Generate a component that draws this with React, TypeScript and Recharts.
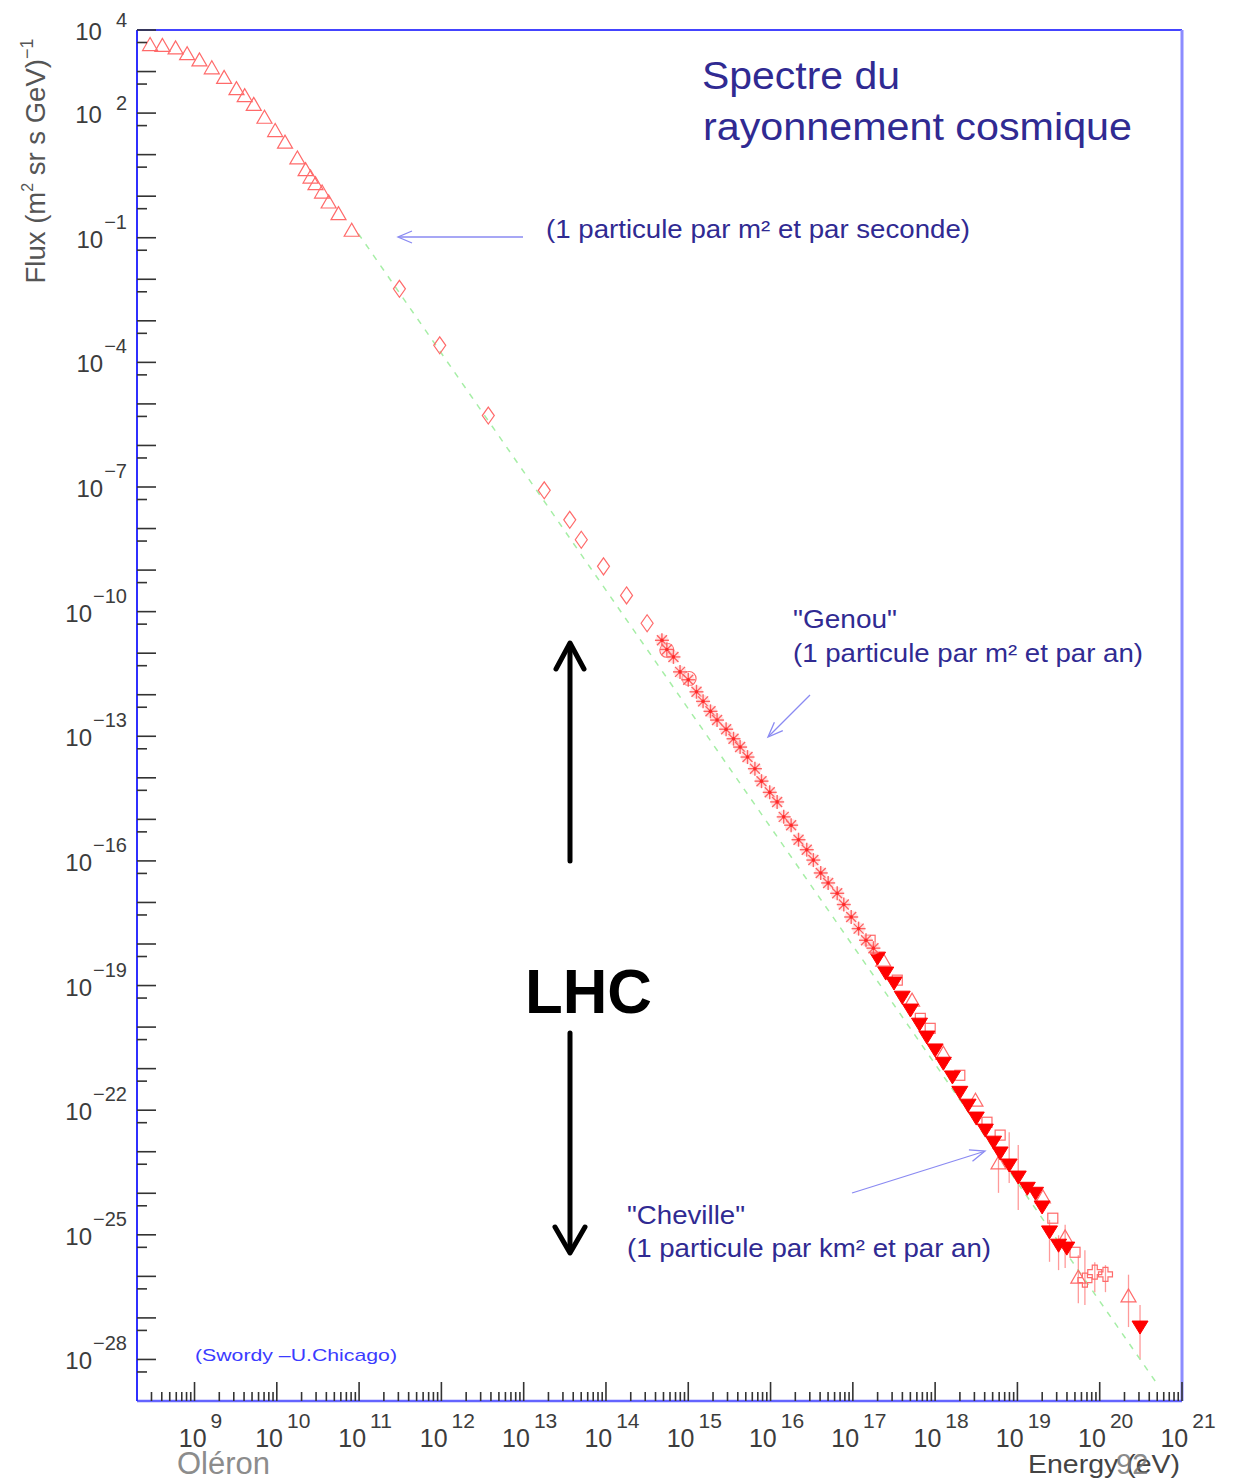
import React from 'react';
import { ScatterChart, Scatter, XAxis, YAxis, ErrorBar, ReferenceLine } from 'recharts';

const FONT = "'Liberation Sans', Arial, Helvetica, sans-serif";

// ---- data: log10(E / eV) and log10(flux) ----
const lowEnergyLogE = [8.46, 8.61, 8.77, 8.91, 9.06, 9.21, 9.36, 9.51, 9.61, 9.72, 9.85, 9.98, 10.1, 10.25, 10.35, 10.41, 10.47, 10.55, 10.63, 10.75, 10.91];
const lowEnergyLogF = [3.65, 3.63, 3.57, 3.43, 3.28, 3.09, 2.86, 2.59, 2.42, 2.21, 1.9, 1.58, 1.3, 0.92, 0.64, 0.46, 0.3, 0.1, -0.14, -0.42, -0.82];

const directLogE = [11.49, 11.98, 12.57, 13.25, 13.56, 13.7, 13.97, 14.25, 14.5];
const directLogF = [-2.23, -3.59, -5.28, -7.08, -7.79, -8.27, -8.91, -9.61, -10.28];

const kneeLogE = [14.68, 14.74, 14.82, 14.9, 15.0, 15.1, 15.18, 15.27, 15.35, 15.46, 15.55, 15.63, 15.72, 15.81, 15.89, 15.99, 16.08, 16.16, 16.25, 16.34, 16.44, 16.52, 16.61, 16.7, 16.81, 16.89, 16.98, 17.07, 17.16, 17.25];
const kneeLogF = [-10.69, -10.91, -11.09, -11.45, -11.64, -11.93, -12.16, -12.4, -12.61, -12.83, -13.06, -13.26, -13.5, -13.78, -14.08, -14.35, -14.58, -14.94, -15.14, -15.49, -15.73, -15.98, -16.29, -16.53, -16.78, -17.05, -17.35, -17.63, -17.91, -18.1];

const ringLogE = [14.74, 15.01];
const ringLogF = [-10.93, -11.61];

const filledLogE = [17.3, 17.4, 17.5, 17.6, 17.7, 17.81, 17.9, 18.0, 18.1, 18.21, 18.3, 18.4, 18.5, 18.61, 18.71, 18.79, 18.9, 19.01, 19.12, 19.22, 19.3, 19.39, 19.5, 19.6, 20.49];
const filledLogF = [-18.34, -18.7, -18.94, -19.28, -19.59, -19.93, -20.24, -20.55, -20.87, -21.2, -21.57, -21.88, -22.19, -22.48, -22.77, -23.03, -23.32, -23.61, -23.88, -24.0, -24.33, -24.93, -25.25, -25.32, -27.22];
const filledErrUp = [0, 0, 0, 0, 0, 0, 0, 0, 0, 0, 0, 0, 0, 0, 0, 0, 0.79, 0.77, 0, 0, 0, 0.29, 0.24, 0, 0.53];
const filledErrDown = [0, 0, 0, 0, 0, 0, 0, 0, 0, 0, 0, 0, 0, 0, 0, 0, 0.43, 0.79, 0, 0, 0, 0.72, 0.6, 0, 0.79];

const openTriLogE = [17.37, 17.72, 18.1, 18.49, 18.77, 19.31, 19.58, 19.74, 20.35];
const openTriLogF = [-18.39, -19.35, -20.63, -21.76, -23.27, -24.09, -25.05, -26.02, -26.47];
const openTriErrUp = [0, 0, 0, 0, 0.31, 0, 0.29, 0.53, 0.51];
const openTriErrDown = [0, 0, 0, 0, 0.72, 0, 0.75, 0.63, 0.75];

const openSquareLogE = [17.21, 17.54, 17.82, 17.94, 18.3, 18.63, 18.79, 19.43, 19.7];
const openSquareLogF = [-17.91, -18.87, -19.79, -20.03, -21.16, -22.29, -22.6, -24.6, -25.42];

const openCrossLogE = [19.82, 19.94, 20.07];
const openCrossLogF = [-26.09, -25.9, -25.95];
const openCrossErrUp = [0.72, 0.24, 0.22];
const openCrossErrDown = [0.6, 0.48, 0.43];

const fitLogE = [10.99, 20.72];
const fitLogF = [-0.9, -28.65];

// ---- axes ----
const X_MIN = 2e8;
const X_MAX = 1e21;
const Y_MIN = 1e-29;
const Y_MAX = 1e4;
const X_DECADES = [8, 9, 10, 11, 12, 13, 14, 15, 16, 17, 18, 19, 20];
const Y_DECADES = [4, 3, 2, 1, 0, -1, -2, -3, -4, -5, -6, -7, -8, -9, -10, -11, -12, -13, -14, -15, -16, -17, -18, -19, -20, -21, -22, -23, -24, -25, -26, -27, -28];
const Y_LABEL_EXPONENTS = [4, 2, -1, -4, -7, -10, -13, -16, -19, -22, -25, -28];
const X_LABEL_EXPONENTS = [9, 10, 11, 12, 13, 14, 15, 16, 17, 18, 19, 20, 21];

type Pt = { x: number; y: number; err: [number, number] };

function buildPoints(logE: number[], logF: number[], up?: number[], down?: number[]): Pt[] {
  return logE.map((e, i) => {
    const y = Math.pow(10, logF[i]);
    const u = up ? up[i] : 0;
    const d = down ? down[i] : 0;
    return {
      x: Math.pow(10, e),
      y,
      err: [y - Math.pow(10, logF[i] - d), Math.pow(10, logF[i] + u) - y],
    };
  });
}

const lowEnergyPts = buildPoints(lowEnergyLogE, lowEnergyLogF);
const directPts = buildPoints(directLogE, directLogF);
const kneePts = buildPoints(kneeLogE, kneeLogF);
const ringPts = buildPoints(ringLogE, ringLogF);
const filledPts = buildPoints(filledLogE, filledLogF, filledErrUp, filledErrDown);
const openTriPts = buildPoints(openTriLogE, openTriLogF, openTriErrUp, openTriErrDown);
const openSquarePts = buildPoints(openSquareLogE, openSquareLogF);
const openCrossPts = buildPoints(openCrossLogE, openCrossLogF, openCrossErrUp, openCrossErrDown);
const fitPts = buildPoints(fitLogE, fitLogF);

const xTicks: number[] = [];
X_DECADES.forEach((n) => {
  for (let k = 1; k <= 9; k++) {
    const v = k * Math.pow(10, n);
    if (v > X_MIN * 1.01 && v <= X_MAX) xTicks.push(v);
  }
});
xTicks.push(X_MAX);

const yTicks: number[] = [];
Y_DECADES.forEach((n) => {
  yTicks.push(Math.pow(10, n));
  yTicks.push(5 * Math.pow(10, n - 1));
});

function decade(v: number): { exp: number; major: boolean } {
  const lg = Math.log10(v);
  const exp = Math.round(lg);
  return { exp, major: Math.abs(lg - exp) < 1e-6 };
}

const supText = (exp: number) => (exp < 0 ? '\u2212' + String(-exp) : String(exp));

const XTick = (props: any) => {
  const { x, y, payload } = props;
  const { exp, major } = decade(payload.value);
  const len = major ? 19 : 9;
  return (
    <g>
      <line x1={x} y1={y} x2={x} y2={y - len} stroke="#333" strokeWidth={1.6} />
      {major && X_LABEL_EXPONENTS.includes(exp) && (
        <text x={x + 6} y={y + 46} textAnchor="middle" fontFamily={FONT} fontSize={25} fill="#3c3c3c">
          10
          <tspan dx={4} dy={-19} fontSize={21}>
            {supText(exp)}
          </tspan>
        </text>
      )}
    </g>
  );
};

const YTick = (props: any) => {
  const { x, y, payload } = props;
  const { exp, major } = decade(payload.value);
  const len = major ? 19 : 10;
  return (
    <g>
      <line x1={x} y1={y} x2={x + len} y2={y} stroke="#333" strokeWidth={1.6} />
      {major && Y_LABEL_EXPONENTS.includes(exp) && (
        <text x={x - 10} y={y + 10} textAnchor="end" fontFamily={FONT} fontSize={24} fill="#3c3c3c">
          10
          <tspan dx={exp > 0 ? 14 : 1} dy={exp > 0 ? -13 : -19} fontSize={20}>
            {supText(exp)}
          </tspan>
        </text>
      )}
    </g>
  );
};

// ---- marker shapes ----
const OPEN = '#ff6a6a';

const OpenTriUp = (p: any) => (
  <polygon
    points={`${p.cx},${p.cy - 7} ${p.cx - 7.5},${p.cy + 6} ${p.cx + 7.5},${p.cy + 6}`}
    fill="none"
    stroke={OPEN}
    strokeWidth={1.2}
  />
);

const OpenDiamond = (p: any) => (
  <polygon
    points={`${p.cx},${p.cy - 8.5} ${p.cx + 6},${p.cy} ${p.cx},${p.cy + 8.5} ${p.cx - 6},${p.cy}`}
    fill="none"
    stroke={OPEN}
    strokeWidth={1.2}
  />
);

const StarMark = (p: any) => (
  <g>
    <circle cx={p.cx} cy={p.cy} r={6.5} fill="#ffd0d0" opacity={0.55} />
    <g stroke="#ff5555" strokeWidth={1.4} opacity={0.9}>
      <line x1={p.cx - 7} y1={p.cy} x2={p.cx + 7} y2={p.cy} />
      <line x1={p.cx} y1={p.cy - 7} x2={p.cx} y2={p.cy + 7} />
      <line x1={p.cx - 5} y1={p.cy - 5} x2={p.cx + 5} y2={p.cy + 5} />
      <line x1={p.cx - 5} y1={p.cy + 5} x2={p.cx + 5} y2={p.cy - 5} />
    </g>
    <circle cx={p.cx} cy={p.cy} r={1.8} fill="#ff2a2a" />
  </g>
);

const RingMark = (p: any) => <circle cx={p.cx} cy={p.cy} r={7} fill="none" stroke={OPEN} strokeWidth={1.2} />;

const FilledTriDown = (p: any) => (
  <polygon
    points={`${p.cx - 8},${p.cy - 6} ${p.cx + 8},${p.cy - 6} ${p.cx},${p.cy + 7}`}
    fill="#ff0000"
    stroke="#ff0000"
    strokeWidth={1}
  />
);

const OpenSquare = (p: any) => (
  <rect x={p.cx - 5} y={p.cy - 5} width={10} height={10} fill="none" stroke={OPEN} strokeWidth={1.2} />
);

const OpenCross = (p: any) => {
  const a = 2.5;
  const b = 7;
  const { cx, cy } = p;
  const d = `M${cx - a},${cy - b} L${cx + a},${cy - b} L${cx + a},${cy - a} L${cx + b},${cy - a} L${cx + b},${cy + a} L${cx + a},${cy + a} L${cx + a},${cy + b} L${cx - a},${cy + b} L${cx - a},${cy + a} L${cx - b},${cy + a} L${cx - b},${cy - a} L${cx - a},${cy - a} Z`;
  return <path d={d} fill="none" stroke={OPEN} strokeWidth={1.2} />;
};

const Nothing = () => <g />;

const INDIGO = '#302a92';
const ARROW_BLUE = '#8a8af2';

export default function App() {
  return (
    <div style={{ position: 'absolute', left: 0, top: 0, width: 1234, height: 1480, background: '#fff' }}>
      <ScatterChart width={1234} height={1480} margin={{ top: 30, right: 52, bottom: 0, left: 0 }}>
        <XAxis
          dataKey="x"
          type="number"
          scale="log"
          domain={[X_MIN, X_MAX]}
          allowDataOverflow
          ticks={xTicks}
          interval={0}
          tick={(p: any) => <XTick {...p} />}
          tickLine={false}
          tickSize={0}
          tickMargin={0}
          height={79}
          axisLine={{ stroke: '#6464ff', strokeWidth: 2.5 }}
        />
        <YAxis
          dataKey="y"
          type="number"
          scale="log"
          domain={[Y_MIN, Y_MAX]}
          allowDataOverflow
          ticks={yTicks}
          interval={0}
          tick={(p: any) => <YTick {...p} />}
          tickLine={false}
          tickSize={0}
          tickMargin={0}
          width={137}
          axisLine={{ stroke: '#2f2fff', strokeWidth: 2 }}
        />
        <ReferenceLine y={Y_MAX} stroke="#4444ff" strokeWidth={2} ifOverflow="visible" />
        <ReferenceLine x={X_MAX} stroke="#8c8cff" strokeWidth={3} ifOverflow="visible" />

        <Scatter
          data={fitPts}
          line={{ stroke: '#a6eea6', strokeWidth: 1.5, strokeDasharray: '6 7' }}
          shape={Nothing}
          isAnimationActive={false}
        />

        <Scatter data={openTriPts} shape={OpenTriUp} isAnimationActive={false}>
          <ErrorBar dataKey="err" direction="y" width={0} stroke="#ff9a9a" strokeWidth={1.3} />
        </Scatter>
        <Scatter data={openCrossPts} shape={OpenCross} isAnimationActive={false}>
          <ErrorBar dataKey="err" direction="y" width={0} stroke="#ff9a9a" strokeWidth={1.3} />
        </Scatter>
        <Scatter data={openSquarePts} shape={OpenSquare} isAnimationActive={false} />
        <Scatter data={filledPts} shape={FilledTriDown} isAnimationActive={false}>
          <ErrorBar dataKey="err" direction="y" width={0} stroke="#ff9a9a" strokeWidth={1.3} />
        </Scatter>

        <Scatter data={lowEnergyPts} shape={OpenTriUp} isAnimationActive={false} />
        <Scatter data={directPts} shape={OpenDiamond} isAnimationActive={false} />
        <Scatter data={ringPts} shape={RingMark} isAnimationActive={false} />
        <Scatter data={kneePts} shape={StarMark} isAnimationActive={false} />
      </ScatterChart>

      <svg
        width={1234}
        height={1480}
        style={{ position: 'absolute', left: 0, top: 0, pointerEvents: 'none' }}
        fontFamily={FONT}
      >
        {/* y-axis title */}
        <text transform="translate(45,161) rotate(-90)" textAnchor="middle" fontSize={27.5} fill="#555">
          Flux (m
          <tspan dy={-12} fontSize={16}>
            2
          </tspan>
          <tspan dy={12}> sr s GeV)</tspan>
          <tspan dy={-12} fontSize={18}>
            {'\u22121'}
          </tspan>
        </text>

        {/* title */}
        <text x={702} y={89} fontSize={38} fill={INDIGO} textLength={198} lengthAdjust="spacingAndGlyphs">
          Spectre du
        </text>
        <text x={703} y={140} fontSize={38} fill={INDIGO} textLength={429} lengthAdjust="spacingAndGlyphs">
          rayonnement cosmique
        </text>

        {/* annotations */}
        <text x={546} y={238} fontSize={25} fill={INDIGO} textLength={424} lengthAdjust="spacingAndGlyphs">
          (1 particule par m² et par seconde)
        </text>
        <line x1={523} y1={237} x2={399} y2={237} stroke={ARROW_BLUE} strokeWidth={1.3} />
        <polyline points="412,231 398,237 412,243" fill="none" stroke={ARROW_BLUE} strokeWidth={1.3} />

        <text x={793} y={628} fontSize={25} fill={INDIGO} textLength={104} lengthAdjust="spacingAndGlyphs">
          "Genou"
        </text>
        <text x={793} y={662} fontSize={25} fill={INDIGO} textLength={350} lengthAdjust="spacingAndGlyphs">
          (1 particule par m² et par an)
        </text>
        <line x1={810} y1={695} x2={769} y2={736} stroke={ARROW_BLUE} strokeWidth={1.3} />
        <polyline points="774.4,722.2 768,737 782.8,730.6" fill="none" stroke={ARROW_BLUE} strokeWidth={1.3} />

        <text x={627} y={1224} fontSize={25} fill={INDIGO} textLength={118} lengthAdjust="spacingAndGlyphs">
          "Cheville"
        </text>
        <text x={627} y={1257} fontSize={25} fill={INDIGO} textLength={364} lengthAdjust="spacingAndGlyphs">
          (1 particule par km² et par an)
        </text>
        <line x1={852} y1={1193} x2={984} y2={1151.5} stroke={ARROW_BLUE} strokeWidth={1.3} />
        <polyline points="968.9,1149.8 985,1151 972.5,1161.2" fill="none" stroke={ARROW_BLUE} strokeWidth={1.3} />

        <text x={195} y={1361} fontSize={17} fill="#3b3bff" textLength={202} lengthAdjust="spacingAndGlyphs">
          (Swordy –U.Chicago)
        </text>

        {/* LHC */}
        <text x={525} y={1013} fontSize={63} fontWeight="bold" fill="#000" textLength={127} lengthAdjust="spacingAndGlyphs">
          LHC
        </text>
        <g stroke="#000" strokeWidth={5} fill="none" strokeLinecap="round" strokeLinejoin="round">
          <line x1={570} y1={646} x2={570} y2={861} />
          <polyline points="556,669 570,643 584,669" />
          <line x1={570} y1={1033} x2={570} y2={1251} />
          <polyline points="555,1227 570,1253 585,1227" />
        </g>

        {/* footer */}
        <text x={177} y={1474} fontSize={31} fill="#8c8c8c" textLength={93} lengthAdjust="spacingAndGlyphs">
          Oléron
        </text>
        <text x={1028} y={1473} fontSize={25} fill="#444" textLength={152} lengthAdjust="spacingAndGlyphs">
          Energy (eV)
        </text>
        <text x={1116} y={1474} fontSize={29} fill="#777" opacity={0.85}>
          92
        </text>
      </svg>
    </div>
  );
}
